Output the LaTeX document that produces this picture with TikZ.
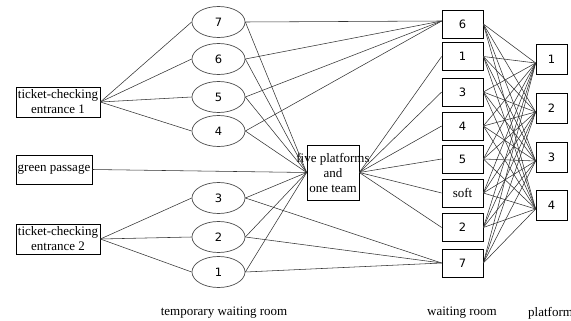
\documentclass[tikz,border=0pt]{standalone}
\usepackage{fontspec}
\setmainfont{Liberation Serif}
\newfontfamily\numfont{DejaVu Sans}
\usetikzlibrary{shapes.geometric}
\begin{document}
\begin{tikzpicture}[x=1pt,y=-1pt,
  every node/.style={font=\fontsize{13}{15}\selectfont, inner sep=0pt},
  rbox/.style={draw, line width=0.7pt, align=center},
  numtxt/.style={font=\numfont\fontsize{11.5}{13}\selectfont},
  oval/.style={draw=black!70, line width=0.7pt, ellipse, minimum width=53pt, minimum height=31pt, numtxt},
  wbox/.style={rbox, minimum width=41pt, minimum height=28pt},
  pbox/.style={rbox, minimum width=31pt, minimum height=30pt, numtxt},
  link/.style={line width=0.55pt, draw=black!80}]
\useasboundingbox (0,0) rectangle (571,321);

% entrances
\node[rbox, minimum width=84pt, minimum height=30pt] (e1) at (58,102) {ticket-checking\\entrance 1};
\node[rbox, minimum width=76pt, minimum height=29pt] (gp) at (54,169.5) {green passage};
\node[rbox, minimum width=84pt, minimum height=30pt] (e2) at (58,239) {ticket-checking\\entrance 2};

% temporary waiting rooms
\node[oval] (t7) at (218.5,22) {7};
\node[oval] (t6) at (218.5,59) {6};
\node[oval] (t5) at (218.5,97) {5};
\node[oval] (t4) at (218.5,131) {4};
\node[oval] (t3) at (218.5,198) {3};
\node[oval] (t2) at (218.5,237) {2};
\node[oval] (t1) at (218.5,272) {1};

% centre
\node[rbox, minimum width=52pt, minimum height=55pt] (ctr) at (333,172.5) {\makebox[0pt]{five platforms}\\and\\one team};

% waiting rooms
\node[wbox, numtxt] (w6) at (462.5,24) {6};
\node[wbox, numtxt] (w1) at (462.5,56.5) {1};
\node[wbox, numtxt] (w3) at (462.5,92) {3};
\node[wbox, numtxt] (w4) at (462.5,126) {4};
\node[wbox, numtxt] (w5) at (462.5,159) {5};
\node[wbox] (wsoft) at (462.5,193) {soft};
\node[wbox, numtxt] (w2) at (462.5,227.5) {2};
\node[wbox, numtxt] (w7) at (462.5,263) {7};

% platforms
\node[pbox] (p1) at (551.5,59) {1};
\node[pbox] (p2) at (551.5,108) {2};
\node[pbox] (p3) at (551.5,157) {3};
\node[pbox] (p4) at (551.5,205) {4};

% labels
\node (lab1) at (224,313) {temporary waiting room};
\node (lab2) at (462,313) {waiting room};
\node[anchor=west] (lab3) at (528,313) {platform};

% connectors
\foreach \e in {7,6,5,4} \draw[link] (e1.east) -- (t\e.west);
\foreach \e in {3,2,1} \draw[link] (e2.east) -- (t\e.west);
\draw[link] (gp.east) -- (ctr.west);
\foreach \e in {7,6,5,4,3,2,1} \draw[link] (t\e.east) -- (ctr.west);
\foreach \e in {7,6,5,4} \draw[link] (t\e.east) -- ([yshift=3pt]w6.west);
\foreach \e in {3,2,1} \draw[link] (t\e.east) -- (w7.west);
\foreach \w in {1,3,4,5,soft,2} \draw[link] (ctr.east) -- (w\w.west);
\foreach \w in {6,1,3,4,5,soft,2,7}
  \foreach \p in {1,2,3,4}
    \draw[link] (w\w.east) -- ([yshift=-4pt]p\p.west);
\end{tikzpicture}
\end{document}
